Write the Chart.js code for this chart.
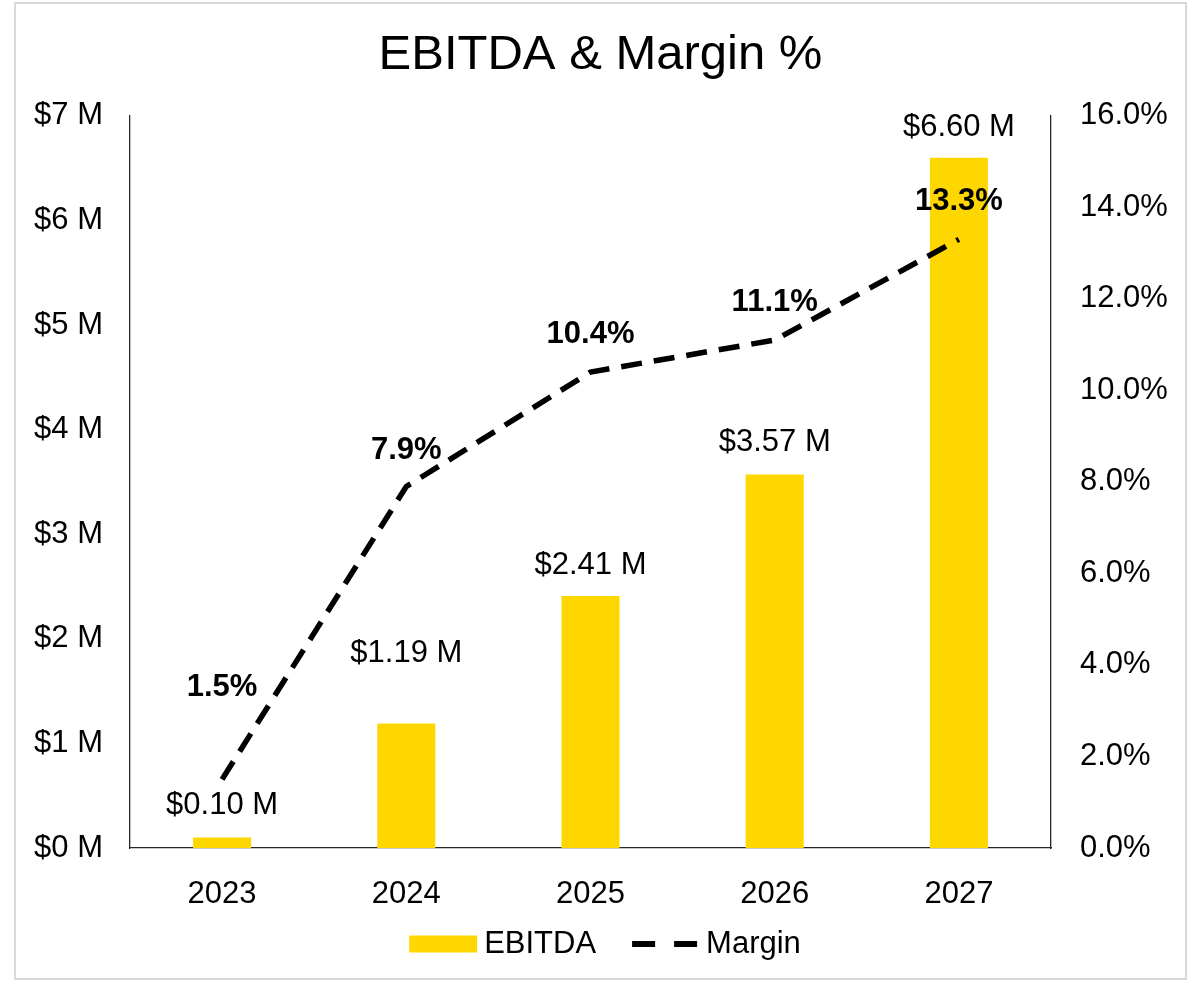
<!DOCTYPE html>
<html>
<head>
<meta charset="utf-8">
<title>EBITDA & Margin %</title>
<script src="https://cdn.jsdelivr.net/npm/chart.js@4.4.1/dist/chart.umd.min.js"></script>
<style>
	body{ margin:0; background:#fff; }
	#wrap{ position:relative; width:1201px; height:982px; }
</style>
</head>
<body>
<div id="wrap"><canvas id="canvasCombo" width="1201" height="982"></canvas></div>
<script>
/*chart data*/
var years = ["2023", "2024", "2025", "2026", "2027"];
var ebitda = [0.10, 1.19, 2.41, 3.57, 6.60];
var margin = [1.5, 7.9, 10.4, 11.1, 13.3];
var ebitdaTicks = [0, 1, 2, 3, 4, 5, 6, 7];
var marginTicks = [0, 2, 4, 6, 8, 10, 12, 14, 16];

/*how far above the mark each label sits (px)*/
var barLabelLift = [32, 70, 30, 32, 30];
var lineLabelLift = [92, 36, 38, 38, 38];

var FONT = "'Liberation Sans', Arial, sans-serif";

/*white page + light grey frame round it*/
var framePlugin = {
	id: "frame",
	beforeDraw: function(chart){
		var ctx = chart.ctx;
		ctx.save();
		ctx.fillStyle = "#fff";
		ctx.fillRect(0, 0, chart.width, chart.height);
		ctx.strokeStyle = "#d9d9d9";
		ctx.lineWidth = 2;
		ctx.strokeRect(15, 3, 1171, 976);
		ctx.restore();
	}
};

/*value labels over bars and line points*/
var labelPlugin = {
	id: "valueLabels",
	afterDatasetsDraw: function(chart){
		var ctx = chart.ctx;
		ctx.save();
		ctx.textAlign = "center";
		ctx.textBaseline = "middle";
		ctx.fillStyle = "#000";

		var barMeta = chart.getDatasetMeta(1);
		ctx.font = "31px " + FONT;
		barMeta.data.forEach(function(el, i){
			ctx.fillText("$" + ebitda[i].toFixed(2) + " M", el.x, el.y - barLabelLift[i]);
		});

		var lineMeta = chart.getDatasetMeta(0);
		ctx.font = "bold 31px " + FONT;
		lineMeta.data.forEach(function(el, i){
			ctx.fillText(margin[i].toFixed(1) + "%", el.x, el.y - lineLabelLift[i]);
		});
		ctx.restore();
	}
};

/*legend at the bottom: yellow box for bars, dashed stroke for the line*/
var legendPlugin = {
	id: "bottomLegend",
	afterDraw: function(chart){
		var ctx = chart.ctx;
		var bar = chart.data.datasets[1];
		var line = chart.data.datasets[0];
		var cy = 944;
		var boxW = 68, gapTxt = 7, gapItem = 36, lineW = 65, gapLine = 9;

		ctx.save();
		ctx.font = "31px " + FONT;
		ctx.textBaseline = "middle";
		ctx.textAlign = "left";
		var w1 = ctx.measureText(bar.label).width;
		var w2 = ctx.measureText(line.label).width;
		var total = boxW + gapTxt + w1 + gapItem + lineW + gapLine + w2;
		var x = 605 - total / 2;

		ctx.fillStyle = bar.backgroundColor;
		ctx.fillRect(x, cy - 8.5, boxW, 17);
		x += boxW + gapTxt;
		ctx.fillStyle = "#000";
		ctx.fillText(bar.label, x, cy);
		x += w1 + gapItem;

		ctx.strokeStyle = line.borderColor;
		ctx.lineWidth = 6;
		ctx.setLineDash([23, 19]);
		ctx.beginPath();
		ctx.moveTo(x, cy);
		ctx.lineTo(x + lineW, cy);
		ctx.stroke();
		ctx.setLineDash([]);
		x += lineW + gapLine;
		ctx.fillText(line.label, x, cy);
		ctx.restore();
	}
};

function init_combo_chart(){

	var ctx = document.getElementById("canvasCombo");

	var settings = {
		type: "bar",
		data: {
			labels: years,
			datasets: [{
				type: "line",
				label: "Margin",
				data: margin,
				yAxisID: "y1",
				borderColor: "#000",
				backgroundColor: "#000",
				borderWidth: 5.5,
				borderDash: [21, 12],
				pointRadius: 0,
				tension: 0,
				order: 0
			}, {
				type: "bar",
				label: "EBITDA",
				data: ebitda,
				yAxisID: "y",
				backgroundColor: "#FFD700",
				borderWidth: 0,
				barPercentage: 0.315,
				categoryPercentage: 1,
				order: 1
			}]
		},
		options: {
			responsive: false,
			animation: false,
			layout: { padding: { top: 0, left: 0, right: 0, bottom: 64 } },
			plugins: {
				title: {
					display: true,
					text: "EBITDA & Margin %",
					color: "#000",
					font: { family: FONT, size: 49, weight: "normal" },
					padding: { top: 26, bottom: 31 }
				},
				legend: { display: false },
				tooltip: { enabled: false }
			},
			scales: {
				x: {
					grid: { display: false },
					border: { display: true, color: "#262626", width: 1.3 },
					ticks: { color: "#000", font: { family: FONT, size: 31 }, padding: 20 },
					afterFit: function(s){ s.height = 70; }
				},
				y: {
					position: "left",
					min: 0,
					max: 7,
					afterBuildTicks: function(s){ s.ticks = ebitdaTicks.map(function(v){ return { value: v }; }); },
					grid: { display: false },
					border: { display: true, color: "#262626", width: 1.3 },
					ticks: {
						color: "#000",
						font: { family: FONT, size: 31 },
						padding: 19,
						callback: function(v){ return "$" + v + " M"; }
					},
					afterFit: function(s){ s.width = 130; }
				},
				y1: {
					position: "right",
					min: 0,
					max: 16,
					afterBuildTicks: function(s){ s.ticks = marginTicks.map(function(v){ return { value: v }; }); },
					grid: { display: false },
					border: { display: true, color: "#262626", width: 1.3 },
					ticks: {
						color: "#000",
						font: { family: FONT, size: 31 },
						padding: 21,
						callback: function(v){ return v.toFixed(1) + "%"; }
					},
					afterFit: function(s){ s.width = 150; }
				}
			}
		},
		plugins: [framePlugin, labelPlugin, legendPlugin]
	};

	var chart = new Chart(ctx, settings);
}

init_combo_chart();
</script>
</body>
</html>
